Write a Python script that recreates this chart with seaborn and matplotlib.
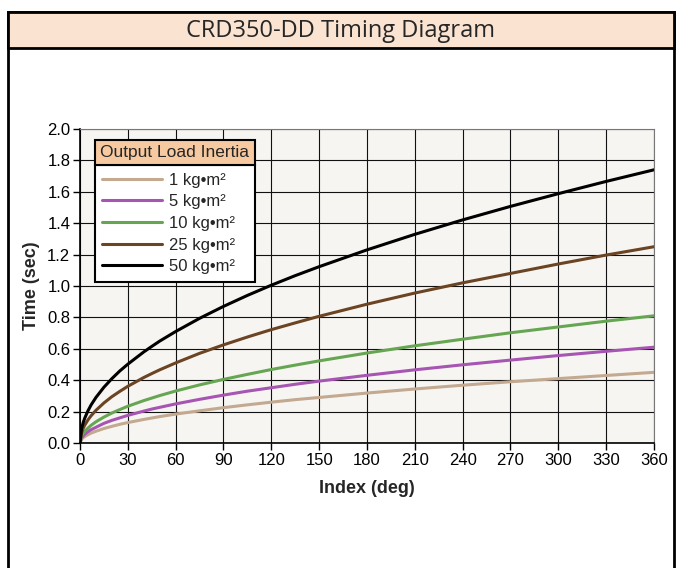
import pandas as pd
import seaborn as sns
import matplotlib.pyplot as plt
from matplotlib.patches import Rectangle

# Values
index_deg = [0, 1, 2, 3, 5, 7, 10, 15, 20, 25, 30, 40, 45, 50, 60, 75, 90, 105, 120, 135,
             150, 180, 210, 240, 270, 300, 330, 360]
t_1 = [0, 0.024, 0.034, 0.041, 0.053, 0.063, 0.075, 0.092, 0.106, 0.119, 0.13, 0.15, 0.159, 0.168, 0.184,
       0.205, 0.225, 0.243, 0.26, 0.276, 0.29, 0.318, 0.344, 0.368, 0.39, 0.41, 0.43, 0.45]
t_5 = [0, 0.032, 0.045, 0.056, 0.072, 0.085, 0.10, 0.125, 0.144, 0.16, 0.176, 0.203, 0.216, 0.227, 0.249,
       0.278, 0.305, 0.33, 0.352, 0.374, 0.394, 0.431, 0.466, 0.498, 0.528, 0.557, 0.584, 0.61]
t_10 = [0, 0.043, 0.06, 0.074, 0.095, 0.113, 0.135, 0.165, 0.191, 0.213, 0.234, 0.27, 0.286, 0.302, 0.331,
        0.37, 0.405, 0.437, 0.468, 0.496, 0.523, 0.573, 0.619, 0.661, 0.702, 0.739, 0.776, 0.81]
t_25 = [0, 0.066, 0.093, 0.114, 0.147, 0.174, 0.208, 0.255, 0.295, 0.329, 0.361, 0.417, 0.442, 0.466, 0.51,
        0.571, 0.625, 0.675, 0.722, 0.765, 0.807, 0.884, 0.955, 1.02, 1.08, 1.14, 1.197, 1.25]
t_50 = [0, 0.092, 0.13, 0.159, 0.205, 0.243, 0.29, 0.355, 0.41, 0.459, 0.502, 0.58, 0.615, 0.649, 0.71,
        0.794, 0.87, 0.94, 1.005, 1.066, 1.123, 1.23, 1.329, 1.421, 1.507, 1.588, 1.666, 1.74]
labels = ['1 kg•m²', '5 kg•m²', '10 kg•m²', '25 kg•m²', '50 kg•m²']
colors = ['#c2a990', '#a655b2', '#66a653', '#6b4424', '#000000']

rows = []
for lab, vals in zip(labels, [t_1, t_5, t_10, t_25, t_50]):
    for x, y in zip(index_deg, vals):
        rows.append({'index': x, 'time': y, 'inertia': lab})
df = pd.DataFrame(rows)

sns.set_style('ticks')
plt.rcParams['font.family'] = ['Liberation Sans', 'DejaVu Sans']

fig = plt.figure(figsize=(6.82, 5.68), dpi=100)

# outer frame and title band
fig.patches.append(Rectangle((0.012, -0.1), 0.977, 1.079, transform=fig.transFigure,
                             fill=False, edgecolor='black', lw=2, zorder=0))
fig.patches.append(Rectangle((0.012, 0.9155), 0.977, 0.0635, transform=fig.transFigure,
                             facecolor='#fae3d1', edgecolor='black', lw=2, zorder=1))
fig.text(0.5, 0.945, 'CRD350-DD Timing Diagram', ha='center', va='center',
         fontsize=17, family=['Open Sans', 'DejaVu Sans'])

ax = fig.add_axes([0.1173, 0.2201, 0.8416, 0.5528])
ax.set_facecolor('#f7f5f1')

sns.lineplot(data=df, x='index', y='time', hue='inertia', palette=colors,
             hue_order=labels, linewidth=2.2, ax=ax)

ax.set_xlim(0, 360)
ax.set_ylim(0, 2.0)
ax.set_xticks(range(0, 361, 30))
ax.set_yticks([i / 10 for i in range(0, 21, 2)])
ax.set_yticklabels([f'{i / 10:.1f}' for i in range(0, 21, 2)])
ax.grid(True, color='#111111', lw=0.8)
ax.set_axisbelow(True)
ax.tick_params(direction='out', length=5, width=1, labelsize=12, colors='black', pad=2)
for s in ['top', 'right']:
    ax.spines[s].set_color('#777777')
for s in ['left', 'bottom']:
    ax.spines[s].set_color('black')
    ax.spines[s].set_linewidth(1.2)
ax.set_xlabel('Index (deg)', fontsize=13, fontweight='bold', labelpad=9)
ax.set_ylabel('Time (sec)', fontsize=13, fontweight='bold', labelpad=5)

# legend with shaded title band
handles, labs = ax.get_legend_handles_labels()
leg = ax.legend(handles, labs, loc='upper left', bbox_to_anchor=(0.026, 0.525, 0.279, 0.36),
                mode='expand', frameon=True, fancybox=False, edgecolor='black',
                framealpha=1, fontsize=12, handlelength=3.6, handletextpad=0.4,
                labelspacing=0.4, borderpad=0.45, borderaxespad=0)
leg.get_frame().set_linewidth(1.5)
ax.add_patch(Rectangle((0.026, 0.885), 0.279, 0.08, transform=ax.transAxes,
                       facecolor='#f6c9a0', edgecolor='black', lw=1.5, zorder=6))
ax.text(0.1655, 0.924, 'Output Load Inertia', transform=ax.transAxes, ha='center',
        va='center', fontsize=12.5, zorder=7)

fig.savefig('out.png', dpi=100)
